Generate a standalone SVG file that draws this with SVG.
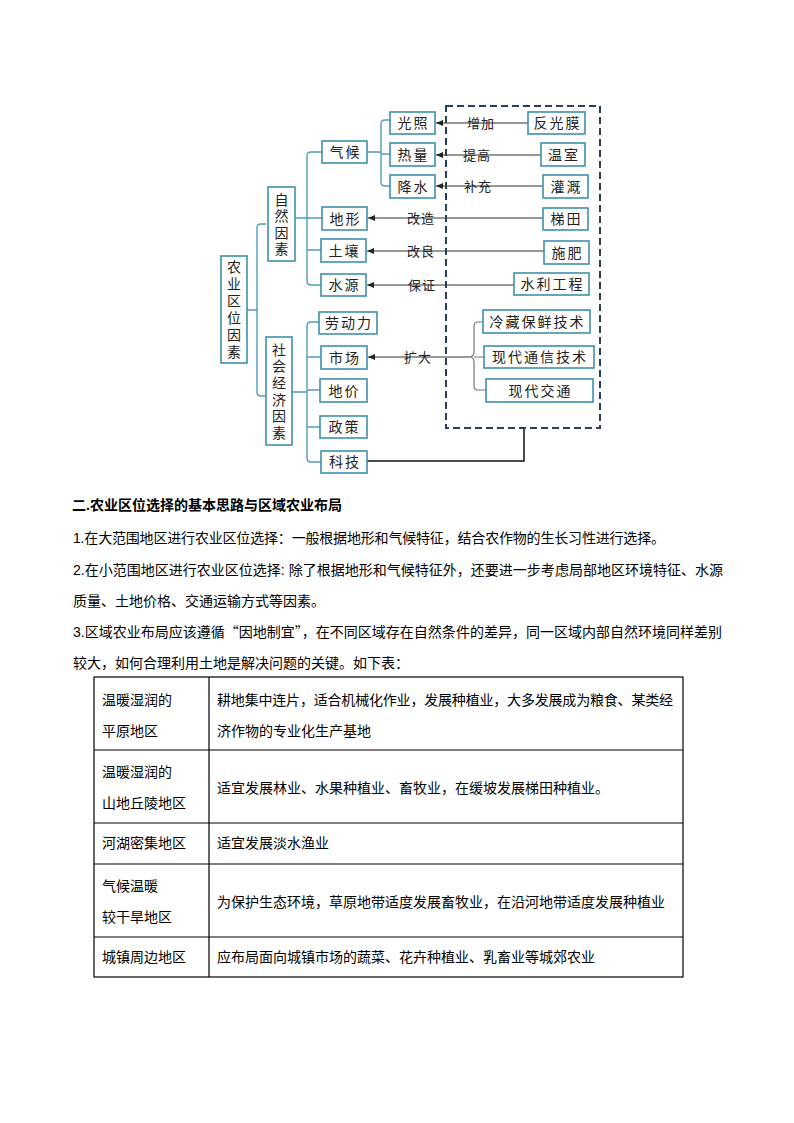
<svg xmlns="http://www.w3.org/2000/svg" width="794" height="1123" viewBox="0 0 794 1123">
<style>
.box{fill:#fff;stroke:#3f8fae;stroke-width:1.6}
.br{fill:none;stroke:#4f9dbd;stroke-width:1.4}
.gbr{fill:none;stroke:#777;stroke-width:1.2}
.ar{fill:none;stroke:#333;stroke-width:1}
.t{font-family:"Noto Sans CJK SC","Noto Sans",sans-serif;font-size:14px;fill:#222;text-anchor:middle;letter-spacing:2px}
.lb{font-family:"Noto Sans CJK SC","Noto Sans",sans-serif;font-size:13px;fill:#222;text-anchor:middle;letter-spacing:1px}
.v{font-family:"Noto Sans CJK SC","Noto Sans",sans-serif;font-size:14px;fill:#222;text-anchor:middle;writing-mode:vertical-rl}
.p{font-family:"Liberation Sans","Noto Sans CJK SC",sans-serif;font-size:14px;fill:#000}
.cj{font-family:"Noto Sans CJK SC",sans-serif}
.h{font-family:"Liberation Sans","Noto Sans CJK SC",sans-serif;font-size:14px;fill:#000;font-weight:bold}
.tb{fill:none;stroke:#000;stroke-width:1.2}
</style>
<defs>
<marker id="ah" markerWidth="8" markerHeight="6" refX="7" refY="3" orient="auto" markerUnits="userSpaceOnUse">
<path d="M0,0 L7,3 L0,6 Z" fill="#222"/>
</marker>
</defs>

<g id="connectors">
<path class="br" d="M247,310 H257 M266,224 H261 Q257,224 257,228 V392 Q257,396 261,396 H266"/>
<path class="br" d="M295,218 H307 M322,152 H311 Q307,152 307,156 V281 Q307,285 311,285 H321 M307,218 H322 M307,250 H321"/>
<path class="br" d="M367,152 H381 M390,120 H385 Q381,120 381,124 V182 Q381,186 385,186 H390 M381,154 H390"/>
<path class="br" d="M292,392 H307 M319,322 H311 Q307,322 307,326 V458 Q307,462 311,462 H321 M307,357 H321 M307,390 H320 M307,427 H320"/>
<path class="gbr" d="M483,322 H478 Q474,322 474,326 V352 Q474,357 469,357 Q474,357 474,362 V386 Q474,390 478,390 H486 M474,357 H484"/>
<line class="ar" x1="528" y1="123" x2="436" y2="123" marker-end="url(#ah)"/>
<line class="ar" x1="541" y1="155" x2="436" y2="155" marker-end="url(#ah)"/>
<line class="ar" x1="543" y1="186" x2="436" y2="186" marker-end="url(#ah)"/>
<line class="ar" x1="543" y1="218" x2="368" y2="218" marker-end="url(#ah)"/>
<line class="ar" x1="544" y1="251" x2="367" y2="251" marker-end="url(#ah)"/>
<line class="ar" x1="514" y1="285" x2="367" y2="285" marker-end="url(#ah)"/>
<line class="ar" x1="469" y1="357" x2="368" y2="357" marker-end="url(#ah)"/>
<path d="M367,461 H524 V428" fill="none" stroke="#111" stroke-width="1.5"/>
<rect x="446" y="106" width="154" height="322" fill="none" stroke="#243f60" stroke-width="2" stroke-dasharray="7,4"/>
<text class="lb" x="481" y="127.5">增加</text>
<text class="lb" x="477" y="159.5">提高</text>
<text class="lb" x="478" y="190.5">补充</text>
<text class="lb" x="421" y="222.5">改造</text>
<text class="lb" x="421" y="255.5">改良</text>
<text class="lb" x="422" y="289.5">保证</text>
<text class="lb" x="418" y="361.5">扩大</text>
</g>

<g id="n-nongye"><rect class="box" x="221" y="256" width="26" height="107"/>
<text class="v" x="234" y="311" style="letter-spacing:3px">农业区位因素</text></g>
<g id="n-ziran"><rect class="box" x="268" y="187" width="27" height="74"/>
<text class="v" x="281.5" y="225.25" style="letter-spacing:2.5px">自然因素</text></g>
<g id="n-shehui"><rect class="box" x="266" y="337" width="26" height="108"/>
<text class="v" x="279" y="392.3" style="letter-spacing:2.7px">社会经济因素</text></g>

<g id="n-qihou"><rect class="box" x="322" y="141" width="45" height="22"/><text class="t" x="345.5" y="157">气候</text></g>
<g id="n-guangzhao"><rect class="box" x="390" y="112" width="45" height="22"/><text class="t" x="413.5" y="128">光照</text></g>
<g id="n-reliang"><rect class="box" x="390" y="143" width="45" height="23"/><text class="t" x="413.5" y="159.5">热量</text></g>
<g id="n-jiangshui"><rect class="box" x="390" y="175" width="45" height="23"/><text class="t" x="413.5" y="191.5">降水</text></g>
<g id="n-dixing"><rect class="box" x="322" y="207" width="45" height="23"/><text class="t" x="345.5" y="223.5">地形</text></g>
<g id="n-turang"><rect class="box" x="321" y="239" width="45" height="23"/><text class="t" x="344.5" y="255.5">土壤</text></g>
<g id="n-shuiyuan"><rect class="box" x="321" y="274" width="45" height="22"/><text class="t" x="344.5" y="290">水源</text></g>
<g id="n-laodongli"><rect class="box" x="319" y="312" width="58" height="22"/><text class="t" x="349" y="328">劳动力</text></g>
<g id="n-shichang"><rect class="box" x="321" y="346" width="46" height="23"/><text class="t" x="345" y="362.5">市场</text></g>
<g id="n-dijia"><rect class="box" x="320" y="379" width="47" height="23"/><text class="t" x="344.5" y="395.5">地价</text></g>
<g id="n-zhengce"><rect class="box" x="320" y="416" width="47" height="22"/><text class="t" x="344.5" y="432">政策</text></g>
<g id="n-keji"><rect class="box" x="321" y="451" width="46" height="22"/><text class="t" x="345" y="467">科技</text></g>

<g id="n-fanguangmo"><rect class="box" x="528" y="112" width="57" height="22"/><text class="t" x="557.5" y="128">反光膜</text></g>
<g id="n-wenshi"><rect class="box" x="541" y="143" width="44" height="23"/><text class="t" x="564" y="159.5">温室</text></g>
<g id="n-guangai"><rect class="box" x="543" y="175" width="45" height="23"/><text class="t" x="566.5" y="191.5">灌溉</text></g>
<g id="n-titian"><rect class="box" x="543" y="208" width="45" height="22"/><text class="t" x="566.5" y="224">梯田</text></g>
<g id="n-shifei"><rect class="box" x="544" y="241" width="45" height="23"/><text class="t" x="567.5" y="257.5">施肥</text></g>
<g id="n-shuili"><rect class="box" x="514" y="273" width="75" height="22"/><text class="t" x="552.5" y="289">水利工程</text></g>
<g id="n-lengcang"><rect class="box" x="483" y="310" width="107" height="23"/><text class="t" x="537.5" y="326.5">冷藏保鲜技术</text></g>
<g id="n-tongxin"><rect class="box" x="484" y="346" width="110" height="22"/><text class="t" x="540" y="362">现代通信技术</text></g>
<g id="n-jiaotong"><rect class="box" x="486" y="379" width="107" height="23"/><text class="t" x="540.5" y="395.5">现代交通</text></g>

<g id="body-text">
<text class="h" x="72" y="510">二.农业区位选择的基本思路与区域农业布局</text>
<text class="p" x="73" y="543" textLength="592" lengthAdjust="spacing">1.在大范围地区进行农业区位选择：一般根据地形和气候特征，结合农作物的生长习性进行选择。</text>
<text class="p" x="73" y="575" textLength="650" lengthAdjust="spacing">2.在小范围地区进行农业区位选择: 除了根据地形和气候特征外，还要进一步考虑局部地区环境特征、水源</text>
<text class="p" x="73" y="606">质量、土地价格、交通运输方式等因素。</text>
<text class="p" x="73" y="637" textLength="649" lengthAdjust="spacing">3.区域农业布局应该遵循<tspan class="cj">“</tspan>因地制宜<tspan class="cj">”</tspan>，在不同区域存在自然条件的差异，同一区域内部自然环境同样差别</text>
<text class="p" x="73" y="668">较大，如何合理利用土地是解决问题的关键。如下表：</text>
</g>

<g id="table">
<rect class="tb" x="94" y="677" width="589" height="300"/>
<path class="tb" d="M209,677 V977 M94,750 H683 M94,823 H683 M94,864 H683 M94,937 H683"/>
<text class="p" x="102" y="705">温暖湿润的</text>
<text class="p" x="102" y="736">平原地区</text>
<text class="p" x="217" y="705" textLength="456" lengthAdjust="spacing">耕地集中连片，适合机械化作业，发展种植业，大多发展成为粮食、某类经</text>
<text class="p" x="217" y="736">济作物的专业化生产基地</text>
<text class="p" x="102" y="777">温暖湿润的</text>
<text class="p" x="102" y="808">山地丘陵地区</text>
<text class="p" x="217" y="793">适宜发展林业、水果种植业、畜牧业，在缓坡发展梯田种植业。</text>
<text class="p" x="102" y="848">河湖密集地区</text>
<text class="p" x="217" y="848">适宜发展淡水渔业</text>
<text class="p" x="102" y="891">气候温暖</text>
<text class="p" x="102" y="922">较干旱地区</text>
<text class="p" x="217" y="907">为保护生态环境，草原地带适度发展畜牧业，在沿河地带适度发展种植业</text>
<text class="p" x="102" y="962">城镇周边地区</text>
<text class="p" x="217" y="962">应布局面向城镇市场的蔬菜、花卉种植业、乳畜业等城郊农业</text>
</g>
</svg>
